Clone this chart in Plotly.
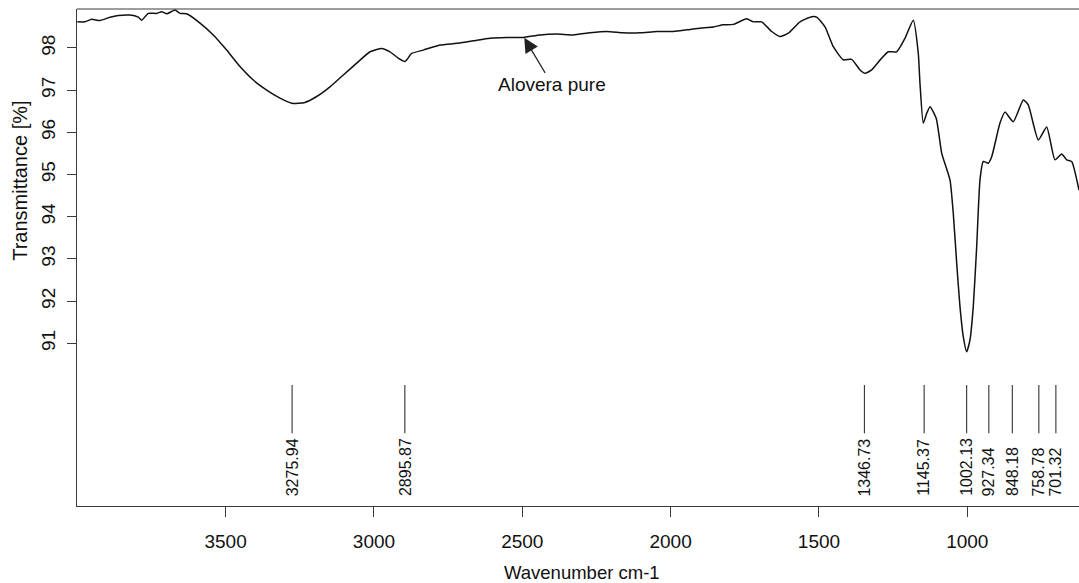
import plotly.graph_objects as go

# Wavenumber (cm-1) and transmittance (%)
wavenumber = [4000, 3974.0, 3951.5, 3923.5, 3889.8, 3861.8, 3822.4, 3794.4, 3782.9, 3760.7,
              3732.4, 3715.5, 3698.6, 3670.7, 3653.8, 3631.2, 3586.4, 3541.6, 3496.4, 3451.6,
              3406.7, 3361.6, 3316.7, 3277.3, 3232.5, 3193.0, 3148.2, 3103.4, 3058.2, 3013.4,
              2973.9, 2945.9, 2917.9, 2895.4, 2872.8, 2833.7, 2777.4, 2721.1, 2665.2, 2608.9,
              2552.6, 2496.6, 2440.3, 2384.0, 2328.1, 2271.8, 2215.5, 2159.5, 2103.3, 2047.0,
              1991.0, 1934.7, 1901.0, 1856.2, 1822.5, 1788.8, 1743.6, 1721.3, 1693.0, 1659.3,
              1631.3, 1603.4, 1563.9, 1524.5, 1507.6, 1479.6, 1451.7, 1418.0, 1389.7, 1361.7,
              1344.8, 1322.2, 1288.5, 1266.2, 1238.0, 1210.0, 1182.0, 1165.1, 1159.4, 1148.3,
              1136.8, 1125.6, 1104.5, 1086.3, 1058.2, 1047.2, 1035.7, 1024.6, 1013.5, 1002.0,
              990.9, 979.8, 968.3, 957.2, 946.0, 929.1, 917.7, 889.8, 872.9, 844.9,
              811.2, 794.4, 760.6, 732.3, 704.4, 681.8, 665.0, 648.1, 623.4]
transmittance = [98.62, 98.62, 98.68, 98.65, 98.73, 98.77, 98.78, 98.73, 98.66, 98.82,
                 98.82, 98.86, 98.81, 98.90, 98.82, 98.81, 98.59, 98.31, 97.95, 97.56,
                 97.24, 97.00, 96.81, 96.69, 96.71, 96.85, 97.08, 97.36, 97.64, 97.91,
                 97.99, 97.91, 97.76, 97.68, 97.87, 97.95, 98.07, 98.11, 98.17, 98.23,
                 98.25, 98.25, 98.31, 98.33, 98.31, 98.36, 98.39, 98.36, 98.36, 98.39,
                 98.39, 98.44, 98.47, 98.50, 98.55, 98.56, 98.69, 98.62, 98.62, 98.39,
                 98.27, 98.35, 98.62, 98.74, 98.73, 98.50, 98.03, 97.72, 97.73, 97.48,
                 97.40, 97.48, 97.76, 97.91, 97.91, 98.23, 98.66, 97.87, 97.16, 96.22,
                 96.45, 96.61, 96.33, 95.51, 94.87, 94.08, 92.90, 91.87, 91.16, 90.80,
                 91.08, 91.87, 93.29, 94.87, 95.31, 95.27, 95.42, 96.22, 96.48, 96.25,
                 96.77, 96.65, 95.82, 96.13, 95.35, 95.49, 95.35, 95.31, 94.63]

peaks = [3275.94, 2895.87, 1346.73, 1145.37, 1002.13, 927.34, 848.18, 758.78, 701.32]

x_ticks = [3500, 3000, 2500, 2000, 1500, 1000]
y_ticks = [91, 92, 93, 94, 95, 96, 97, 98]

series_label = "Alovera pure"
x_title = "Wavenumber cm-1"
y_title = "Transmittance [%]"

FONT = "Liberation Sans, Arial, sans-serif"
AX = "#3a3a3a"

fig = go.Figure()

fig.add_trace(go.Scatter(
    x=wavenumber, y=transmittance, mode="lines",
    line=dict(color="#111111", width=1.5, shape="spline", smoothing=0.5),
    showlegend=False, hoverinfo="x+y"))

# peak marker ticks
px, py = [], []
for p in peaks:
    px += [p, p, None]
    py += [90.01, 88.87, None]
fig.add_trace(go.Scatter(x=px, y=py, mode="lines",
                         line=dict(color="#333333", width=1.1),
                         showlegend=False, hoverinfo="skip"))

annotations = []
for p in peaks:
    annotations.append(dict(x=p, y=87.33, xref="x", yref="y", text=f"{p:.2f}",
                            textangle=-90, showarrow=False, xanchor="center",
                            yanchor="bottom", font=dict(family=FONT, size=16, color="#111")))

annotations.append(dict(x=2493.3, y=98.24, xref="x", yref="y", text=series_label,
                        showarrow=True, ax=28, ay=47, arrowhead=2, arrowsize=2.4,
                        arrowwidth=1.2, arrowcolor="#222",
                        font=dict(family=FONT, size=19, color="#111")))

annotations.append(dict(x=0.5037, y=-0.133, xref="paper", yref="paper", text=x_title,
                        showarrow=False, xanchor="center", yanchor="middle",
                        font=dict(family=FONT, size=18.5, color="#111")))
annotations.append(dict(x=-0.057, y=0.654, xref="paper", yref="paper", text=y_title,
                        textangle=-90, showarrow=False, xanchor="center", yanchor="middle",
                        font=dict(family=FONT, size=20, color="#111")))

fig.update_layout(
    width=1079, height=583,
    margin=dict(l=77, r=0, t=9, b=77),
    paper_bgcolor="white", plot_bgcolor="white",
    annotations=annotations,
    shapes=[dict(type="line", xref="paper", yref="paper", x0=0, x1=1, y0=1, y1=1,
                 line=dict(color=AX, width=1.2))],
    xaxis=dict(range=[4001, 623.4], tickvals=x_ticks, ticks="outside", ticklen=10,
               tickcolor=AX, tickwidth=1.1, showline=True, linecolor=AX, linewidth=1.2,
               showgrid=False, zeroline=False, ticklabelstandoff=8,
               tickfont=dict(family=FONT, size=19, color="#111")),
    yaxis=dict(range=[87.145, 98.924], tickvals=y_ticks, ticks="outside", ticklen=9,
               tickcolor=AX, tickwidth=1.1, showline=True, linecolor=AX, linewidth=1.2,
               showgrid=False, zeroline=False, tickangle=-90, ticklabelstandoff=4,
               tickfont=dict(family=FONT, size=19, color="#111")),
)

fig.write_html("out.html")
